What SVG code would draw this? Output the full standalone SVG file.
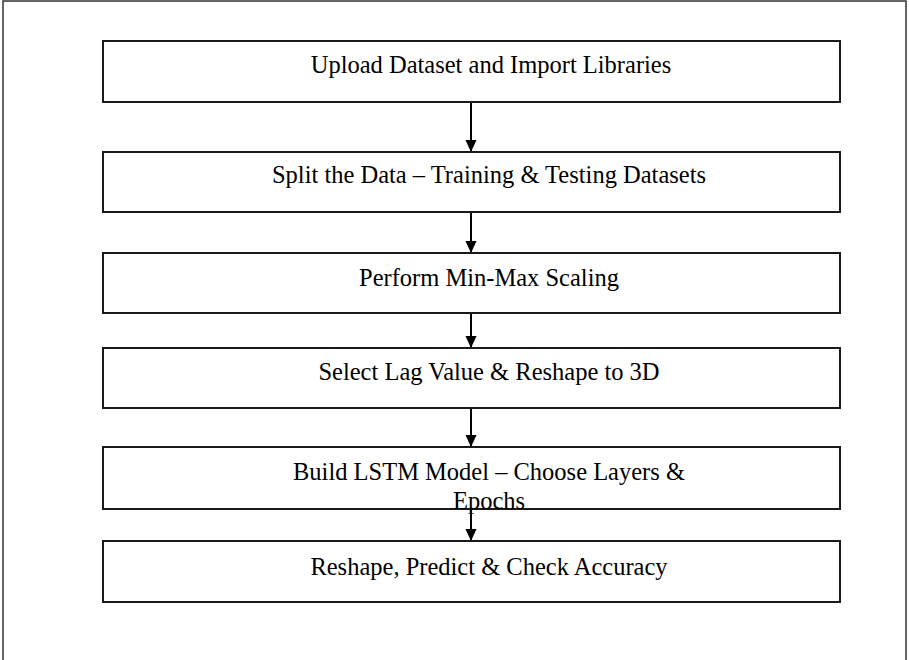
<svg xmlns="http://www.w3.org/2000/svg" width="909" height="660" viewBox="0 0 909 660">
<style>
.box{fill:#fff;stroke:#1a1a1a;stroke-width:2}
.lbl{font-family:"Liberation Serif","Times New Roman",serif;font-size:24.5px;fill:#000;text-anchor:middle}
.conn{stroke:#000;stroke-width:2;fill:none}
</style>
<defs>
<marker id="ah" markerWidth="12" markerHeight="13" refX="6" refY="13" orient="auto" markerUnits="userSpaceOnUse" viewBox="0 0 12 13">
<path d="M0,0 L12,0 L6,13 Z" fill="#000" transform="rotate(-90 6 6.5)"/>
</marker>
<marker id="ah2" markerWidth="12" markerHeight="13" refX="13" refY="6" orient="auto" markerUnits="userSpaceOnUse" viewBox="0 0 13 12">
<path d="M0,0 L13,6 L0,12 Z" fill="#000"/>
</marker>
</defs>
<rect x="0" y="0" width="909" height="660" fill="#fff"/>
<rect x="3" y="1" width="903" height="680" fill="none" stroke="#333" stroke-width="1.5"/>
<g id="connectors">
<line class="conn" x1="471" y1="102" x2="471" y2="152" marker-end="url(#ah2)"/>
<line class="conn" x1="471" y1="212" x2="471" y2="253" marker-end="url(#ah2)"/>
<line class="conn" x1="471" y1="313" x2="471" y2="348" marker-end="url(#ah2)"/>
<line class="conn" x1="471" y1="408" x2="471" y2="447" marker-end="url(#ah2)"/>
<line class="conn" x1="471" y1="509" x2="471" y2="541" marker-end="url(#ah2)"/>
</g>
<g id="n1"><rect class="box" x="103" y="41" width="737" height="61"/><text class="lbl" x="491" y="73">Upload Dataset and Import Libraries</text></g>
<g id="n2"><rect class="box" x="103" y="152" width="737" height="60"/><text class="lbl" x="489" y="183">Split the Data – Training &amp; Testing Datasets</text></g>
<g id="n3"><rect class="box" x="103" y="253" width="737" height="60"/><text class="lbl" x="489" y="286">Perform Min-Max Scaling</text></g>
<g id="n4"><rect class="box" x="103" y="348" width="737" height="60"/><text class="lbl" x="489" y="380">Select Lag Value &amp; Reshape to 3D</text></g>
<g id="n5"><rect class="box" x="103" y="447" width="737" height="62" fill="none"/><text class="lbl" x="489" y="480">Build LSTM Model – Choose Layers &amp;</text><text class="lbl" x="489" y="509">Epochs</text></g>
<g id="n6"><rect class="box" x="103" y="541" width="737" height="61"/><text class="lbl" x="489" y="575">Reshape, Predict &amp; Check Accuracy</text></g>
</svg>
